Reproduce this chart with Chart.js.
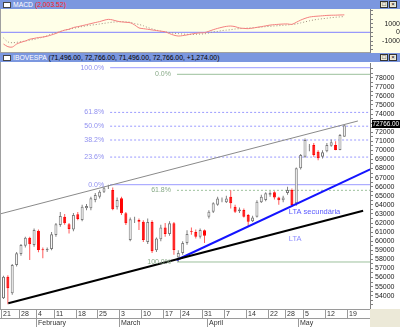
<!DOCTYPE html>
<html><head><meta charset="utf-8">
<script src="https://cdn.jsdelivr.net/npm/chart.js@4.4.1/dist/chart.umd.min.js"></script>
<style>
html,body{margin:0;padding:0;}
body{width:400px;height:327px;position:relative;overflow:hidden;background:#fff;font-family:"Liberation Sans",Arial,sans-serif;}
.tbar{position:absolute;left:0;width:400px;height:9px;background:#7b97df;font-size:6.8px;line-height:9px;white-space:nowrap;}
.ico{position:absolute;left:3px;top:2px;width:8px;height:6px;background:#fff;border:1px solid #444;box-sizing:border-box}
.txt{position:absolute;left:13px;top:0}
.btn{position:absolute;top:1px;width:8px;height:7px;background:#ece9d8;border:1px solid #333;box-sizing:border-box;font-size:6px;line-height:5px;text-align:center;color:#000}
#macdWrap{position:absolute;left:0;top:9px;width:400px;height:44px;background:#ffffe8}
#mainWrap{position:absolute;left:0;top:62px;width:400px;height:265px;background:#fff}
</style></head>
<body>
<div class="tbar" style="top:0"><div class="ico"></div><div class="txt"><span style="color:#fff">MACD</span> <span style="color:#ff2020">(2,003.52)</span></div><div class="btn" style="left:380px">□</div><div class="btn" style="left:389px">×</div></div>
<div id="macdWrap"><canvas id="macd"></canvas></div>
<div class="tbar" style="top:53px"><div class="ico"></div><div class="txt"><span style="color:#fff">IBOVESPA</span> <span style="color:#000">(71,496.00, 72,766.00, 71,496.00, 72,766.00, +1,274.00)</span></div><div class="btn" style="left:380px">□</div><div class="btn" style="left:389px">×</div></div>
<div id="mainWrap"><canvas id="main"></canvas></div>
<script>
// ---------- DATA ----------
const opens  = [53710,56090,54260,57380,58590,59510,60390,59580,61160,59100,58990,59140,60680,61780,62700,61860,61300,62960,62330,63620,63620,64540,64900,65450,65960,65640,63730,64720,63070,60130,62330,62330,62150,59900,62100,59000,60200,61500,60800,61970,58200,58700,59800,61100,61000,60500,61200,62700,63250,64000,64500,64300,64900,63800,63300,63430,62880,62200,62700,64300,64540,65100,65400,64800,64500,65300,65640,64170,68020,69310,70400,70590,69860,69300,69900,70500,70600,70040,71496];
const highs  = [56200,56250,57500,58800,59700,60500,60500,61400,61300,59300,59300,61000,62000,63200,63000,62000,63100,63200,64000,64100,64900,65300,65600,66000,66220,65900,64800,64900,63200,62600,62700,62500,62300,62500,62300,60400,61800,62000,62200,62100,59000,60000,61200,61500,61300,61400,61300,63400,64300,64900,64800,65000,65600,64000,63700,63600,63000,62800,64500,65100,65400,65500,65500,64900,65000,66000,65800,68100,69600,71300,70700,70800,70000,70000,70800,71200,71000,71800,72766];
const lows   = [53640,53050,54100,57200,58400,59300,57930,59400,58770,58110,58800,59000,60500,61600,61800,60860,61100,62300,62200,63400,63400,64300,64700,65300,65750,63400,63500,62880,61780,60000,62000,61230,59900,59700,58700,58800,60000,60500,60600,58500,57710,58500,59600,60700,60300,60300,59800,62500,63100,63900,64300,64200,63600,63100,63100,62600,61600,62100,62600,64200,64400,64900,64600,64000,64300,65100,63800,63900,67900,69200,69900,69300,68900,69100,69800,70400,70000,70000,71496];
const closes = [56090,54810,57380,58660,59580,60390,59650,61230,59030,59000,59140,60760,61860,62770,61970,61340,62880,62440,63800,63870,64720,65090,65450,65820,66000,63510,64540,63070,61970,62410,62360,62150,60130,62100,58900,60300,61500,60800,61970,59030,58700,59800,60800,61000,60500,61230,60600,63250,64170,64700,64560,64700,64170,63250,63500,62700,62150,62600,64350,64900,65270,65300,64800,64500,64800,65640,63980,68020,69490,71140,70420,69490,69120,69800,70600,70900,70050,71690,72766];
const macdValues   = [-1350,-1650,-1700,-1350,-1150,-1000,-800,-700,-600,-550,-450,-300,-130,80,250,350,550,650,760,880,1000,1120,1230,1380,1490,1420,1280,1200,1150,1100,850,500,420,350,270,200,130,60,-150,-330,-430,-380,-300,-200,-120,-60,-40,120,300,450,580,680,720,650,500,450,420,480,570,650,740,830,880,920,950,960,910,1150,1400,1600,1750,1820,1860,1900,1940,1960,1970,1990,2003];
const signalValues = [-650,-1100,-1200,-1150,-1080,-1000,-900,-820,-700,-550,-400,-200,-50,100,250,350,450,560,660,750,820,880,950,1030,1100,1170,1200,1220,1200,1150,1000,900,750,550,400,250,130,50,-30,-100,-150,-200,-230,-240,-230,-200,-180,-80,50,100,200,250,300,380,420,450,490,520,560,600,650,690,730,760,800,850,900,960,1080,1200,1320,1420,1500,1560,1620,1680,1730,1770,1810];
const dayTickLabels = ['21','28','4','11','18','25','3','10','17','24','31','7','14','22','28','5','12','19'];
const dayTickBars   = [0,4,8,12,17,22,27,32,37,41,46,51,56,61,65,69,74,79];
const monthLabels   = ['February','March','April','May'];
const monthTickBars = [8,27,47,68];
const yTickValues = [53000,53500,54000,54500,55000,55500,56000,56500,57000,57500,58000,58500,59000,59500,60000,60500,61000,61500,62000,62500,63000,63500,64000,64500,65000,65500,66000,66500,67000,67500,68000,68500,69000,69500,70000,70500,71000,71500,72000,72500,73000,73500,74000,74500,75000,75500,76000,76500,77000,77500,78000,78500,79000];
const yTickLabels = [54000,55000,56000,57000,58000,59000,60000,61000,62000,63000,64000,65000,66000,67000,68000,69000,70000,71000,72000,73000,74000,75000,76000,77000,78000];
const macdTickValues = [-2000,-1500,-1000,-500,0,500,1000,1500,2000,2500];
const macdTickLabels = [-1000,0,1000];
// Fibonacci levels (blue from the Feb high, green from the March low)
const fibBlueLevels = [66220,69260,71140,72660,74180,79100];
const fibBlueNames  = ['0.0%','23.6%','38.2%','50.0%','61.8%','100.0%'];
const fibBlueDashed = [false,true,true,true,true,false];
const fibBlueStart  = 24.4;
const fibGreenLevels = [78374,65600,57710];
const fibGreenNames  = ['0.0%','61.8%','100.0%'];
const fibGreenDashed = [false,true,false];
const fibGreenStart  = 39.7;
// trend lines: [barIndex, price] endpoints
const channelTop = [[-0.57,63026],[81.1,73233]];
const ltaMain    = [[1.1,53161],[82.3,63357]];
const ltaSecond  = [[39.6,57929],[83.9,67915]];
const trendLabels = [{text:'LTA secundária', x:65.3, y:63250, color:'#5a5aff'},{text:'LTA', x:65.3, y:60240, color:'#8c8cff'}];
const lastPrice = 72766;

const xMin = -0.57, xMax = 83.87;
Chart.defaults.font.family = '"Liberation Sans", Arial, sans-serif';
Chart.defaults.font.size = 7;
function noPad(s){ s.paddingTop = 0; s.paddingBottom = 0; }

// ---------- MAIN CHART ----------
const idx = opens.map((_, i) => i);
const up = idx.map(i => closes[i] >= opens[i]);
const datasets = [];
datasets.push({type:'bar', data: idx.map(i => ({x:i, y:[lows[i], highs[i]]})), backgroundColor: idx.map(i => up[i] ? '#808080' : '#ff5a5a'), barThickness:1, grouped:false, inflateAmount:0, borderWidth:0, order:3});
datasets.push({type:'bar', data: idx.map(i => ({x:i, y:[opens[i], closes[i]]})), backgroundColor: idx.map(i => up[i] ? '#ffffff' : '#ff0000'), borderColor: idx.map(i => up[i] ? '#7a7a7a' : '#ff0000'), borderWidth:1, borderSkipped:false, barThickness:3, grouped:false, inflateAmount:0, order:2});
fibBlueLevels.forEach((v, k) => datasets.push({type:'line', data:[{x:fibBlueStart,y:v},{x:xMax,y:v}], borderColor:'#9a9aff', borderWidth:1, borderDash: fibBlueDashed[k] ? [2,2] : [], pointRadius:0, order:5}));
fibGreenLevels.forEach((v, k) => datasets.push({type:'line', data:[{x:fibGreenStart,y:v},{x:xMax,y:v}], borderColor:'#9cc09c', borderWidth:1, borderDash: fibGreenDashed[k] ? [2,2] : [], pointRadius:0, order:5}));
datasets.push({type:'line', data: channelTop.map(p => ({x:p[0], y:p[1]})), borderColor:'#8a8a8a', borderWidth:1, pointRadius:0, order:1});
datasets.push({type:'line', data: ltaMain.map(p => ({x:p[0], y:p[1]})), borderColor:'#000000', borderWidth:2, pointRadius:0, order:1});
datasets.push({type:'line', data: ltaSecond.map(p => ({x:p[0], y:p[1]})), borderColor:'#1414ff', borderWidth:2, pointRadius:0, order:1});

const overlay = {
  id:'overlay',
  afterDraw(chart) {
    const ctx = chart.ctx, xs = chart.scales.x, ys = chart.scales.y, ca = chart.chartArea;
    ctx.save();
    ctx.font = '7px "Liberation Sans", Arial, sans-serif';
    ctx.textBaseline = 'middle';
    ctx.textAlign = 'right';
    ctx.fillStyle = '#9090f0';
    fibBlueLevels.forEach((v, k) => ctx.fillText(fibBlueNames[k], xs.getPixelForValue(fibBlueStart) - 6, ys.getPixelForValue(v)));
    ctx.fillStyle = '#88aa88';
    fibGreenLevels.forEach((v, k) => ctx.fillText(fibGreenNames[k], xs.getPixelForValue(fibGreenStart) - 6, ys.getPixelForValue(v)));
    ctx.textAlign = 'left';
    ctx.font = '7.5px "Liberation Sans", Arial, sans-serif';
    trendLabels.forEach(t => { ctx.fillStyle = t.color; ctx.fillText(t.text, xs.getPixelForValue(t.x), ys.getPixelForValue(t.y)); });
    const py = ys.getPixelForValue(lastPrice);
    ctx.fillStyle = '#000';
    ctx.fillRect(ca.right + 2, Math.round(py) - 5, 30, 8);
    ctx.fillStyle = '#fff';
    ctx.font = '6.4px "Liberation Sans", Arial, sans-serif';
    ctx.fillText(lastPrice.toFixed(2), ca.right + 2.5, Math.round(py) - 1);
    ctx.strokeStyle = '#a0a0a0';
    ctx.lineWidth = 1;
    ctx.beginPath(); ctx.moveTo(0.5, 0); ctx.lineTo(0.5, ca.bottom); ctx.stroke();
    const top = ca.bottom;
    ctx.fillStyle = '#ece9d8';
    ctx.fillRect(ca.right, top, chart.width - ca.right, chart.height - top);
    ctx.strokeStyle = '#9a9a9a';
    ctx.beginPath();
    ctx.moveTo(0, top + 0.5); ctx.lineTo(ca.right, top + 0.5);
    ctx.moveTo(0, top + 9.5); ctx.lineTo(ca.right, top + 9.5);
    ctx.stroke();
    ctx.fillStyle = '#333';
    ctx.font = '7px "Liberation Sans", Arial, sans-serif';
    ctx.textAlign = 'left';
    dayTickBars.forEach((b, k) => {
      const px = Math.round(xs.getPixelForValue(b - 0.5)) + 0.5;
      ctx.beginPath(); ctx.moveTo(px, top); ctx.lineTo(px, top + 9); ctx.stroke();
      ctx.fillText(dayTickLabels[k], px + 1.5, top + 5);
    });
    monthTickBars.forEach((b, k) => {
      const px = Math.round(xs.getPixelForValue(b - 0.5)) + 0.5;
      ctx.beginPath(); ctx.moveTo(px, top + 9); ctx.lineTo(px, chart.height); ctx.stroke();
      ctx.fillText(monthLabels[k], px + 1.5, top + 14);
    });
    ctx.restore();
  }
};

new Chart(document.getElementById('main'), {
  type:'bar',
  data:{datasets},
  options:{
    animation:false, responsive:true, maintainAspectRatio:false,
    layout:{padding:{top:1, left:1, right:0, bottom:0}},
    plugins:{legend:{display:false}, tooltip:{enabled:false}},
    scales:{
      x:{type:'linear', min:xMin, max:xMax, offset:false, grid:{display:false}, border:{display:false}, ticks:{display:false}, afterFit(s){ s.height = 18; s.paddingLeft = 0; s.paddingRight = 0; }},
      y:{position:'right', min:52534, max:79618,
         afterFit(s){ s.width = 30; noPad(s); },
         afterBuildTicks(s){ s.ticks = yTickValues.map(v => ({value:v})); },
         ticks:{autoSkip:false, padding:2, color:'#222', font:{size:7}, callback:(v) => yTickLabels.includes(v) ? String(v) : ''},
         grid:{drawOnChartArea:false, drawTicks:true, tickLength:3, color:'#808080'},
         border:{display:true, color:'#808080'}}
    }
  },
  plugins:[overlay]
});

// ---------- MACD CHART ----------
const macdBorder = {
  id:'macdBorder',
  afterDraw(chart){ const ctx = chart.ctx; ctx.save(); ctx.strokeStyle = '#a0a0a0'; ctx.beginPath(); ctx.moveTo(0.5,0); ctx.lineTo(0.5,chart.height); ctx.moveTo(0, chart.height-0.5); ctx.lineTo(chart.chartArea.right, chart.height-0.5); ctx.stroke(); ctx.restore(); }
};
new Chart(document.getElementById('macd'), {
  type:'line',
  data:{datasets:[
    {data: idx.map(i => ({x:i, y:macdValues[i]})), borderColor:'#f47f7f', borderWidth:1, pointRadius:0, tension:0.3},
    {data: idx.map(i => ({x:i, y:signalValues[i]})), borderColor:'#a08e7e', borderWidth:1, borderDash:[1,2], pointRadius:0, tension:0.3},
    {data: [{x:xMin, y:0}, {x:xMax, y:0}], borderColor:'#8080ff', borderWidth:1, pointRadius:0}
  ]},
  options:{
    animation:false, responsive:true, maintainAspectRatio:false,
    layout:{padding:{top:0, left:1, right:0, bottom:1}},
    plugins:{legend:{display:false}, tooltip:{enabled:false}},
    scales:{
      x:{type:'linear', display:false, min:xMin, max:xMax},
      y:{position:'right', min:-2264, max:2678,
         afterFit(s){ s.width = 30; noPad(s); },
         afterBuildTicks(s){ s.ticks = macdTickValues.map(v => ({value:v})); },
         ticks:{autoSkip:false, padding:1, crossAlign:'far', color:'#222', font:{size:7}, callback:(v) => macdTickLabels.includes(v) ? String(v) : ''},
         grid:{drawOnChartArea:false, drawTicks:true, tickLength:3, color:'#808080'},
         border:{display:true, color:'#808080'}}
    }
  },
  plugins:[macdBorder]
});
</script>
</body></html>
